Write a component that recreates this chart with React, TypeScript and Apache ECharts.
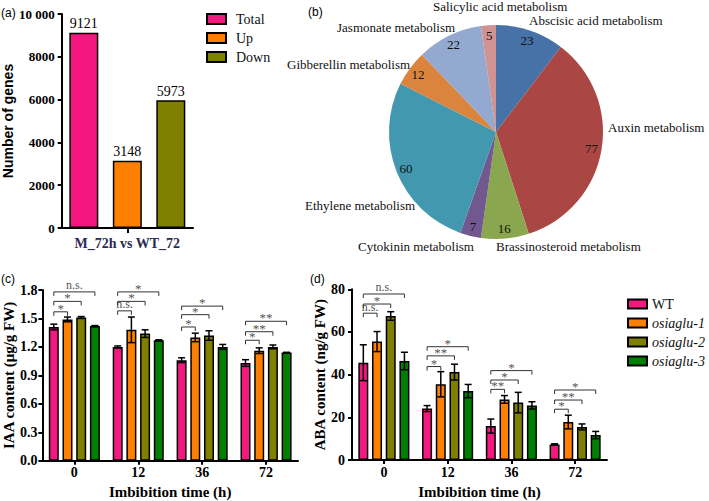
import React, { useEffect, useRef } from 'react';
import * as echarts from 'echarts';

// ---------- Panel (a) ----------
const geneCategory = ['M_72h vs WT_72'];
const geneSeriesNames = ['Total', 'Up', 'Down'];
const geneCounts = [9121, 3148, 5973];
const geneColors = ['#F5177F', '#FF8000', '#7F7F00'];

// ---------- Panel (b) ----------
const hormoneNames = [
  'Abscisic acid metabolism',
  'Auxin metabolism',
  'Brassinosteroid metabolism',
  'Cytokinin metabolism',
  'Ethylene metabolism',
  'Gibberellin metabolism',
  'Jasmonate metabolism',
  'Salicylic acid metabolism',
];
const hormoneCounts = [23, 77, 16, 7, 60, 12, 22, 5];
const hormoneColors = ['#4672A8', '#AA4744', '#8AA64F', '#71588F', '#4198AF', '#DB843D', '#93A9CF', '#D19392'];
const hormoneLabelX = [529, 608, 496, 358, 305, 287, 337, 433];
const hormoneLabelY = [20, 127, 246, 246, 205, 64, 27, 6];

// ---------- Panels (c), (d) ----------
const times = ['0', '12', '36', '72'];
const lines = ['WT', 'osiaglu-1', 'osiaglu-2', 'osiaglu-3'];
const lineColors = ['#F3197E', '#FF8000', '#808000', '#008000'];

const iaaWT = [1.41, 1.2, 1.06, 1.03];
const iaaL1 = [1.49, 1.38, 1.3, 1.16];
const iaaL2 = [1.51, 1.34, 1.32, 1.2];
const iaaL3 = [1.42, 1.27, 1.2, 1.14];
const iaaErrWT = [0.03, 0.01, 0.025, 0.035];
const iaaErrL1 = [0.025, 0.135, 0.045, 0.03];
const iaaErrL2 = [0.01, 0.04, 0.05, 0.02];
const iaaErrL3 = [0.005, 0.005, 0.026, 0.003];

const abaWT = [45.6, 24.1, 15.9, 7.3];
const abaL1 = [55.5, 35.5, 28.4, 17.8];
const abaL2 = [67.5, 41.2, 26.9, 15.5];
const abaL3 = [46.4, 32.3, 25.6, 11.7];
const abaErrWT = [8.4, 1.4, 3.3, 0.3];
const abaErrL1 = [4.7, 5.9, 1.8, 3.2];
const abaErrL2 = [2.0, 3.7, 4.8, 1.4];
const abaErrL3 = [4.1, 3.1, 1.7, 1.7];

const bracketCat = [0, 0, 0, 1, 1, 1, 2, 2, 2, 3, 3, 3];
const bracketTo = [1, 2, 3, 1, 2, 3, 1, 2, 3, 1, 2, 3];
const iaaBracketY = [1.57, 1.68, 1.78, 1.58, 1.68, 1.78, 1.41, 1.54, 1.63, 1.27, 1.36, 1.47];
const iaaBracketLabel = ['*', '*', 'n.s.', 'n.s.', '*', '*', '*', '*', '*', '*', '**', '**'];
const abaBracketY = [68.8, 73.1, 77.8, 43.8, 48.8, 53.1, 33.1, 37.5, 41.9, 23.8, 28.1, 32.8];
const abaBracketLabel = ['n.s.', '*', 'n.s.', '*', '**', '*', '**', '*', '*', '*', '**', '*'];

const SERIF = '"Liberation Serif", "Times New Roman", serif';
const SANS = '"Liberation Sans", Arial, sans-serif';
const BAR_W = 10;
const BAR_STEP = 13.7;

function buildOption() {
  const iaaMeans = [iaaWT, iaaL1, iaaL2, iaaL3];
  const iaaErrs = [iaaErrWT, iaaErrL1, iaaErrL2, iaaErrL3];
  const abaMeans = [abaWT, abaL1, abaL2, abaL3];
  const abaErrs = [abaErrWT, abaErrL1, abaErrL2, abaErrL3];

  const axisLine = { show: true, lineStyle: { color: '#000', width: 2 } };
  const axisTick = { show: true, length: 4, lineStyle: { color: '#000', width: 2 } };
  const tickFont = { fontFamily: SERIF, fontWeight: 'bold' as const, fontSize: 14, color: '#000' };

  const errData = (means: number[][], errs: number[][]) => {
    const out: number[][] = [];
    means.forEach((m, si) => m.forEach((v, ci) => out.push([ci, si, v, errs[si][ci]])));
    return out;
  };

  const errSeries = (xi: number, means: number[][], errs: number[][]) => ({
    type: 'custom',
    xAxisIndex: xi,
    yAxisIndex: xi,
    z: 5,
    silent: true,
    itemStyle: { color: '#000', borderColor: '#000' },
    encode: { x: 0, y: 2 },
    data: errData(means, errs),
    renderItem: (params: any, api: any) => {
      const ci = api.value(0);
      const si = api.value(1);
      const m = api.value(2);
      const e = api.value(3);
      const hi = api.coord([ci, m + e]);
      const lo = api.coord([ci, m - e]);
      const x = hi[0] + (si - 1.5) * BAR_STEP;
      const st = { stroke: '#000', lineWidth: 1.5 };
      return {
        type: 'group',
        children: [
          { type: 'line', shape: { x1: x, y1: hi[1], x2: x, y2: lo[1] }, style: st },
          { type: 'line', shape: { x1: x - 3.5, y1: hi[1], x2: x + 3.5, y2: hi[1] }, style: st },
          { type: 'line', shape: { x1: x - 3.5, y1: lo[1], x2: x + 3.5, y2: lo[1] }, style: st },
        ],
      };
    },
  });

  const bracketSeries = (xi: number, ys: number[], labels: string[]) => ({
    type: 'custom',
    xAxisIndex: xi,
    yAxisIndex: xi,
    z: 6,
    silent: true,
    itemStyle: { color: '#555', borderColor: '#333' },
    encode: { x: 0, y: 2 },
    data: bracketCat.map((c, i) => [c, bracketTo[i], ys[i]]),
    renderItem: (params: any, api: any) => {
      const i = params.dataIndex;
      const p = api.coord([api.value(0), api.value(2)]);
      const x1 = p[0] - 1.5 * BAR_STEP;
      const x2 = p[0] + (api.value(1) - 1.5) * BAR_STEP;
      const y = p[1];
      return {
        type: 'group',
        children: [
          {
            type: 'polyline',
            shape: { points: [[x1, y + 4], [x1, y], [x2, y], [x2, y + 4]] },
            style: { stroke: '#333', lineWidth: 1, fill: 'none' },
          },
          {
            type: 'text',
            x: (x1 + x2) / 2,
            y: labels[i] === 'n.s.' ? y - 0.5 : y + 3,
            style: {
              text: labels[i],
              align: 'center',
              verticalAlign: 'bottom',
              fontFamily: SERIF,
              fontSize: labels[i] === 'n.s.' ? 12 : 13,
              fill: '#555',
              stroke: 'none',
            },
          },
        ],
      };
    },
  });

  const barGroup = (xi: number, means: number[][]) =>
    means.map((m, si) => ({
      type: 'bar',
      name: lines[si],
      xAxisIndex: xi,
      yAxisIndex: xi,
      data: m,
      barWidth: BAR_W,
      barGap: '37%',
      itemStyle: { color: lineColors[si], borderColor: '#000', borderWidth: 1.5 },
    }));

  return {
    animation: false,
    backgroundColor: '#fff',
    textStyle: { fontFamily: SERIF },
    color: lineColors,
    grid: [
      { left: 55, top: 14, width: 138, height: 214 },
      { left: 41, top: 290, width: 257, height: 170.7 },
      { left: 352, top: 289.3, width: 255, height: 170.7 },
    ],
    xAxis: [
      {
        type: 'category',
        gridIndex: 0,
        data: geneCategory,
        axisLine,
        axisTick: { ...axisTick, alignWithLabel: true, length: 5 },
        axisLabel: { ...tickFont, color: '#2b2b55', margin: 8 },
      },
      {
        type: 'category',
        gridIndex: 1,
        data: times,
        axisLine,
        axisTick: { ...axisTick, alignWithLabel: true },
        axisLabel: { ...tickFont, margin: 5 },
        name: 'Imbibition time (h)',
        nameLocation: 'middle',
        nameGap: 24,
        nameTextStyle: { fontFamily: SERIF, fontWeight: 'bold', fontSize: 15, color: '#000' },
      },
      {
        type: 'category',
        gridIndex: 2,
        data: times,
        axisLine,
        axisTick: { ...axisTick, alignWithLabel: true },
        axisLabel: { ...tickFont, margin: 5 },
        name: 'Imbibition time (h)',
        nameLocation: 'middle',
        nameGap: 24,
        nameTextStyle: { fontFamily: SERIF, fontWeight: 'bold', fontSize: 15, color: '#000' },
      },
    ],
    yAxis: [
      {
        type: 'value',
        gridIndex: 0,
        min: 0,
        max: 10000,
        interval: 2000,
        splitLine: { show: false },
        axisLine,
        axisTick,
        axisLabel: {
          ...tickFont,
          fontSize: 13,
          margin: 7,
          formatter: (v: number) => (v >= 10000 ? '10 000' : String(v)),
        },
        name: 'Number of genes',
        nameLocation: 'middle',
        nameGap: 34,
        nameTextStyle: { fontFamily: SANS, fontWeight: 'bold', fontSize: 14, color: '#000' },
      },
      {
        type: 'value',
        gridIndex: 1,
        min: 0,
        max: 1.8,
        interval: 0.3,
        splitLine: { show: false },
        axisLine,
        axisTick,
        axisLabel: { ...tickFont, margin: 5, formatter: (v: number) => v.toFixed(1) },
        name: 'IAA content (μg/g FW)',
        nameLocation: 'middle',
        nameGap: 21,
        nameTextStyle: { fontFamily: SERIF, fontWeight: 'bold', fontSize: 15, color: '#000' },
      },
      {
        type: 'value',
        gridIndex: 2,
        min: 0,
        max: 80,
        interval: 20,
        splitLine: { show: false },
        axisLine,
        axisTick,
        axisLabel: { ...tickFont, margin: 7 },
        name: 'ABA content (ng/g FW)',
        nameLocation: 'middle',
        nameGap: 23,
        nameTextStyle: { fontFamily: SERIF, fontWeight: 'bold', fontSize: 15, color: '#000' },
      },
    ],
    legend: [
      {
        data: geneSeriesNames,
        orient: 'vertical',
        left: 201,
        top: 7,
        icon: 'rect',
        itemWidth: 19,
        itemHeight: 10,
        itemGap: 5,
        selectedMode: false,
        textStyle: { fontFamily: SERIF, fontSize: 14, color: '#111', padding: [0, 0, 0, 5] },
      },
      {
        data: lines,
        orient: 'vertical',
        left: 622,
        top: 292,
        icon: 'rect',
        itemWidth: 19,
        itemHeight: 9,
        itemGap: 5,
        itemTextGap: 6,
        selectedMode: false,
        formatter: (n: string) => (n === 'WT' ? `{n|${n}}` : `{i|${n}}`),
        textStyle: {
          fontFamily: SERIF,
          fontSize: 14,
          color: '#111',
          rich: {
            n: { fontFamily: SERIF, fontSize: 14, color: '#111' },
            i: { fontFamily: SERIF, fontSize: 14, fontStyle: 'italic', color: '#111' },
          },
        },
      },
    ],
    graphic: [
      { type: 'text', left: 1, top: 7, style: { text: '(a)', fontFamily: SANS, fontSize: 12, fill: '#000' } },
      { type: 'text', left: 308, top: 6, style: { text: '(b)', fontFamily: SANS, fontSize: 12, fill: '#000' } },
      { type: 'text', left: 1, top: 273, style: { text: '(c)', fontFamily: SANS, fontSize: 12, fill: '#000' } },
      { type: 'text', left: 310, top: 273, style: { text: '(d)', fontFamily: SANS, fontSize: 12, fill: '#000' } },
    ],
    series: [
      ...geneSeriesNames.map((n, i) => ({
        type: 'bar',
        name: n,
        xAxisIndex: 0,
        yAxisIndex: 0,
        data: [geneCounts[i]],
        barWidth: 29,
        barGap: '50%',
        itemStyle: { color: geneColors[i], borderColor: '#000', borderWidth: 1.5 },
        label: {
          show: true,
          position: 'top',
          distance: 2,
          fontFamily: SERIF,
          fontSize: 14,
          color: '#000',
        },
      })),
      {
        type: 'pie',
        center: [496, 132],
        radius: 107,
        startAngle: 90,
        clockwise: true,
        avoidLabelOverlap: false,
        silent: true,
        data: hormoneNames.map((n, i) => ({
          name: n,
          value: hormoneCounts[i],
          itemStyle: { color: hormoneColors[i] },
        })),
        label: {
          show: true,
          position: 'outside',
          formatter: '{b}',
          fontFamily: SERIF,
          fontSize: 13,
          color: '#111',
        },
        labelLine: { show: false },
        labelLayout: (p: any) => ({
          x: hormoneLabelX[p.dataIndex],
          y: hormoneLabelY[p.dataIndex],
          align: 'left',
          verticalAlign: 'middle',
        }),
      },
      {
        type: 'pie',
        center: [496, 132],
        radius: [80, 108],
        startAngle: 90,
        clockwise: true,
        silent: true,
        z: 3,
        data: hormoneNames.map((n, i) => ({ name: n, value: hormoneCounts[i] })),
        itemStyle: { color: 'rgba(0,0,0,0)' },
        label: {
          show: true,
          position: 'inside',
          formatter: '{c}',
          fontFamily: SERIF,
          fontSize: 13,
          color: '#111',
        },
        labelLine: { show: false },
      },
      ...barGroup(1, iaaMeans),
      ...barGroup(2, abaMeans),
      errSeries(1, iaaMeans, iaaErrs),
      errSeries(2, abaMeans, abaErrs),
      bracketSeries(1, iaaBracketY, iaaBracketLabel),
      bracketSeries(2, abaBracketY, abaBracketLabel),
    ],
  };
}

export default function App() {
  const ref = useRef<HTMLDivElement>(null);
  useEffect(() => {
    if (!ref.current) return;
    const chart = echarts.init(ref.current, null, { renderer: 'svg' });
    chart.setOption(buildOption() as any);
    return () => chart.dispose();
  }, []);
  return (
    <div
      ref={ref}
      style={{ position: 'absolute', left: 0, top: 0, width: 709, height: 501, background: '#fff' }}
    />
  );
}
